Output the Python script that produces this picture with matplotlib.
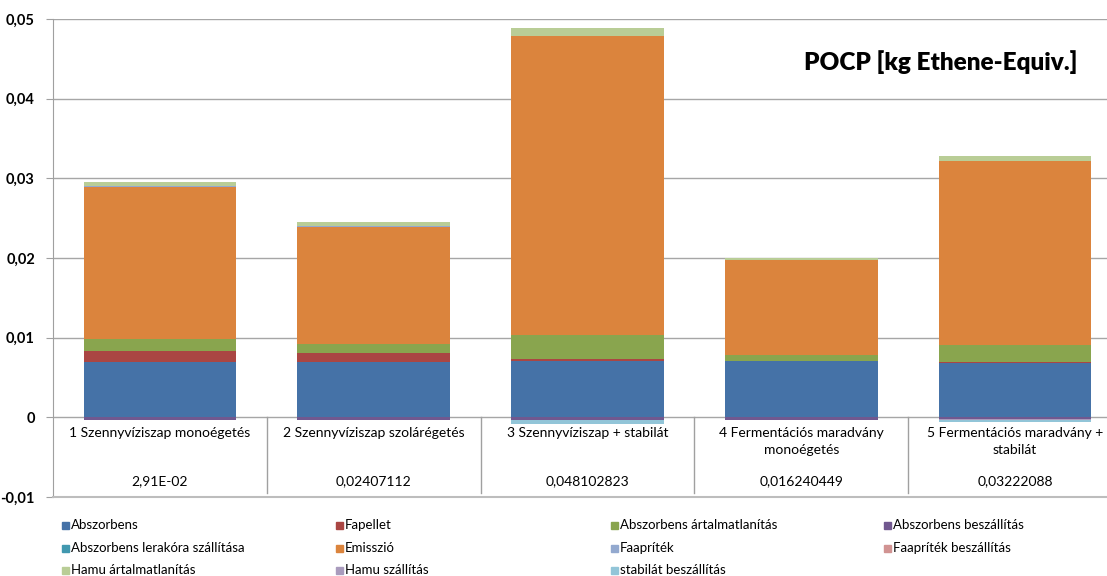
import numpy as np
import matplotlib.pyplot as plt
from matplotlib.patches import Rectangle

plt.rcParams['font.family'] = ['Lato', 'DejaVu Sans']

# scenarios and the totals shown in the data table
categories = ['1 Szennyvíziszap monoégetés', '2 Szennyvíziszap szolárégetés',
              '3 Szennyvíziszap + stabilát', '4 Fermentációs maradvány\nmonoégetés',
              '5 Fermentációs maradvány +\nstabilát']
totals_text = ['2,91E-02', '0,02407112', '0,048102823', '0,016240449', '0,03222088']

# POCP contributions per process [kg Ethene-Equiv.]
abszorbens = [0.00698, 0.00698, 0.00704, 0.00704, 0.00686]
fapellet = [0.00138, 0.00113, 0.00025, 0.0, 0.0001]
abszorbens_artalmatlanitas = [0.00143, 0.00109, 0.00309, 0.00075, 0.0021]
abszorbens_beszallitas = [-0.0003, -0.0003, -0.0003, -0.0003, -0.00025]
abszorbens_lerakora = [0.0, 0.0, 0.0, 0.0, 0.0]
emisszio = [0.01917, 0.0147, 0.03744, 0.01195, 0.02307]
faapritek = [0.00008, 0.00008, 0.00008, 0.00002, 0.00008]
faapritek_beszallitas = [0.0, 0.0, 0.0, 0.0, 0.0]
hamu_artalmatlanitas = [0.00046, 0.0005, 0.00097, 0.00025, 0.00065]
hamu_szallitas = [-0.0001, -0.0001, -0.0001, -0.0001, -0.0001]
stabilat_beszallitas = [0.0, 0.0, -0.0004, 0.0, -0.0003]

series = [
    ('Abszorbens', abszorbens, '#4572A7'),
    ('Fapellet', fapellet, '#AA4643'),
    ('Abszorbens ártalmatlanítás', abszorbens_artalmatlanitas, '#89A54E'),
    ('Abszorbens beszállítás', abszorbens_beszallitas, '#71588F'),
    ('Abszorbens lerakóra szállítása', abszorbens_lerakora, '#4198AF'),
    ('Emisszió', emisszio, '#DB843D'),
    ('Faapríték', faapritek, '#93A9CF'),
    ('Faapríték beszállítás', faapritek_beszallitas, '#D19392'),
    ('Hamu ártalmatlanítás', hamu_artalmatlanitas, '#B9CD96'),
    ('Hamu szállítás', hamu_szallitas, '#A99BBD'),
    ('stabilát beszállítás', stabilat_beszallitas, '#92C5D8'),
]

fig = plt.figure(figsize=(11.07, 5.76), dpi=100)
ax = fig.add_axes([0.0479, 0.1372, 0.9657, 0.8299])

x = np.arange(len(categories))
pos = np.zeros(len(x))
neg = np.zeros(len(x))
for name, vals, col in series:
    v = np.array(vals)
    bottom = np.where(v >= 0, pos, neg)
    ax.bar(x, v, 0.714, bottom=bottom, color=col, linewidth=0, zorder=3)
    pos = pos + np.where(v >= 0, v, 0)
    neg = neg + np.where(v < 0, v, 0)

ax.set_xlim(-0.5, 4.5)
ax.set_ylim(-0.01, 0.05)
ax.set_yticks(np.arange(-0.01, 0.051, 0.01))
ax.set_yticklabels(['-0,01', '0', '0,01', '0,02', '0,03', '0,04', '0,05'],
                   fontweight='bold', fontsize=10.5)
ax.tick_params(axis='y', length=5, color='#A0A0A0', pad=8)
ax.set_xticks([])
for yv in np.arange(0.0, 0.051, 0.01):
    ax.axhline(yv, color='#A6A6A6', lw=1, zorder=1)
for s in ['top', 'right']:
    ax.spines[s].set_visible(False)
ax.spines['left'].set_color('#A0A0A0')
ax.spines['bottom'].set_color('#BDBDBD')
ax.spines['bottom'].set_linewidth(1.5)

# data table under the zero line
for b in np.arange(0.5, 4.5, 1):
    ax.plot([b, b], [0, -0.0095], color='#A0A0A0', lw=1, zorder=2)
for i, (lab, tot) in enumerate(zip(categories, totals_text)):
    ax.text(i, -0.0012, lab, ha='center', va='top', fontsize=10, linespacing=1.55)
    ax.text(i, -0.0080, tot, ha='center', va='center', fontsize=10)

ax.text(0.958, 0.91, 'POCP [kg Ethene-Equiv.]', transform=ax.transAxes,
        ha='right', va='center', fontsize=17.5, fontweight='heavy')

# legend laid out on a fixed grid
col_x = [62, 336, 611, 884]
row_y = [525, 548, 570]
W, H = 1107, 576
for k, (name, vals, col) in enumerate(series):
    r, c = divmod(k, 4)
    px, py = col_x[c], row_y[r]
    fig.patches.append(Rectangle((px / W, (H - py - 3.5) / H), 7 / W, 7 / H,
                                 transform=fig.transFigure, color=col, figure=fig))
    fig.text((px + 9) / W, (H - py) / H, name, ha='left', va='center', fontsize=9.5)

fig.savefig('out.png', dpi=100)
